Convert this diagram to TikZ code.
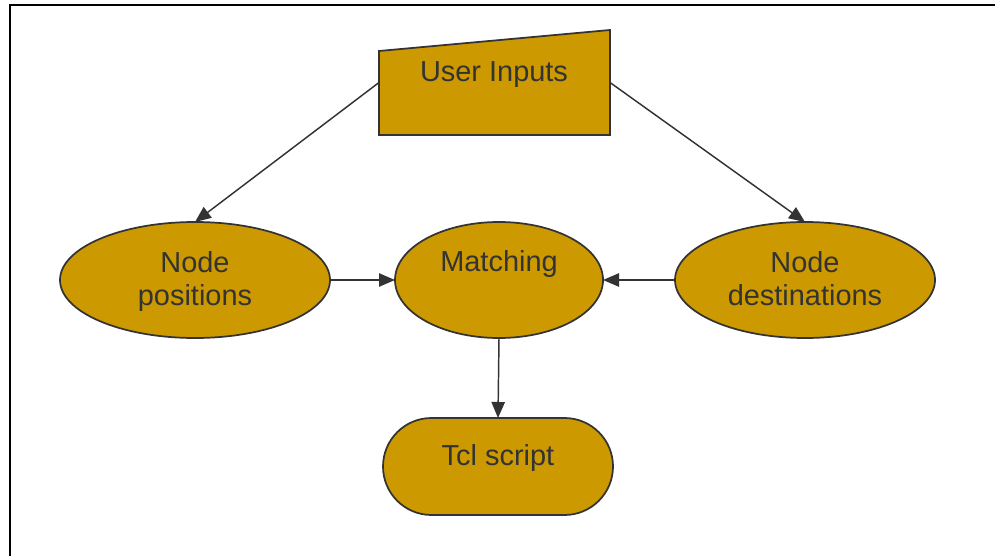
\documentclass[tikz,border=0pt]{standalone}
\usepackage{fontspec}
\setmainfont{Liberation Sans}
\usepackage{xcolor}
\usepackage{tikz}
\usetikzlibrary{shapes.geometric}
\usetikzlibrary{shapes.misc}
\usetikzlibrary{arrows.meta}

\definecolor{gold}{HTML}{CC9900}
\definecolor{ink}{HTML}{333333}

\begin{document}
\begin{tikzpicture}[x = 0.75pt, y = -0.75pt, line width = 1.1pt,
        every node/.style = {text = ink, font = \fontsize{21.7}{24.75}\selectfont},
        blob/.style = {ellipse, draw = ink, fill = gold, line width = 1.3pt, minimum height = 87pt, inner sep = 0pt, outer sep = 0pt},
        pill/.style = {rounded rectangle, draw = ink, fill = gold, line width = 1.3pt, inner sep = 0pt, outer sep = 0pt},
        arr/.style = {-{Triangle[length = 12pt, width = 10pt]}, draw = ink}]
        \useasboundingbox (0, 0) rectangle (995, 556);
        \draw[line width = 1.5pt] (10, 556) -- (10, 5) -- (995, 5);

        % manual input box
        \node (inputs) [minimum width = 173.25pt, minimum height = 78.75pt, inner sep = 0pt, outer sep = 0pt] at (494.5, 82.5) {};
        \filldraw[draw = ink, fill = gold, line width = 1.3pt] (inputs.south west) -- ([yshift = -15.75pt]inputs.north west) -- (inputs.north east) -- (inputs.south east) -- cycle;
        \node (inputstext) [anchor = base] at (494, 82) {User Inputs};

        \node (positions) [blob, minimum width = 202.5pt, align = center] at (195, 280) {};
        \node (positionstext) [align = center] at (195, 281.5) {Node\\positions};
        \node (matching) [blob, minimum width = 156pt] at (499, 280) {};
        \node (matchingtext) [anchor = base] at (499, 271) {Matching};
        \node (destinations) [blob, minimum width = 195pt, align = center] at (805, 280) {};
        \node (destinationstext) [align = center] at (805, 279) {Node\\destinations};

        \node (tcl) [pill, minimum width = 172.5pt, minimum height = 72.75pt] at (498, 466.5) {};
        \node (tcltext) [anchor = base] at (498, 465) {Tcl script};

        \draw[arr] (inputs.west) -- (positions.north);
        \draw[arr] (inputs.east) -- (destinations.north);
        \draw[arr] (positions.east) -- (matching.west);
        \draw[arr] (destinations.west) -- (matching.east);
        \draw[arr] (matching.south) -- (tcl.north);
    \end{tikzpicture}
\end{document}
